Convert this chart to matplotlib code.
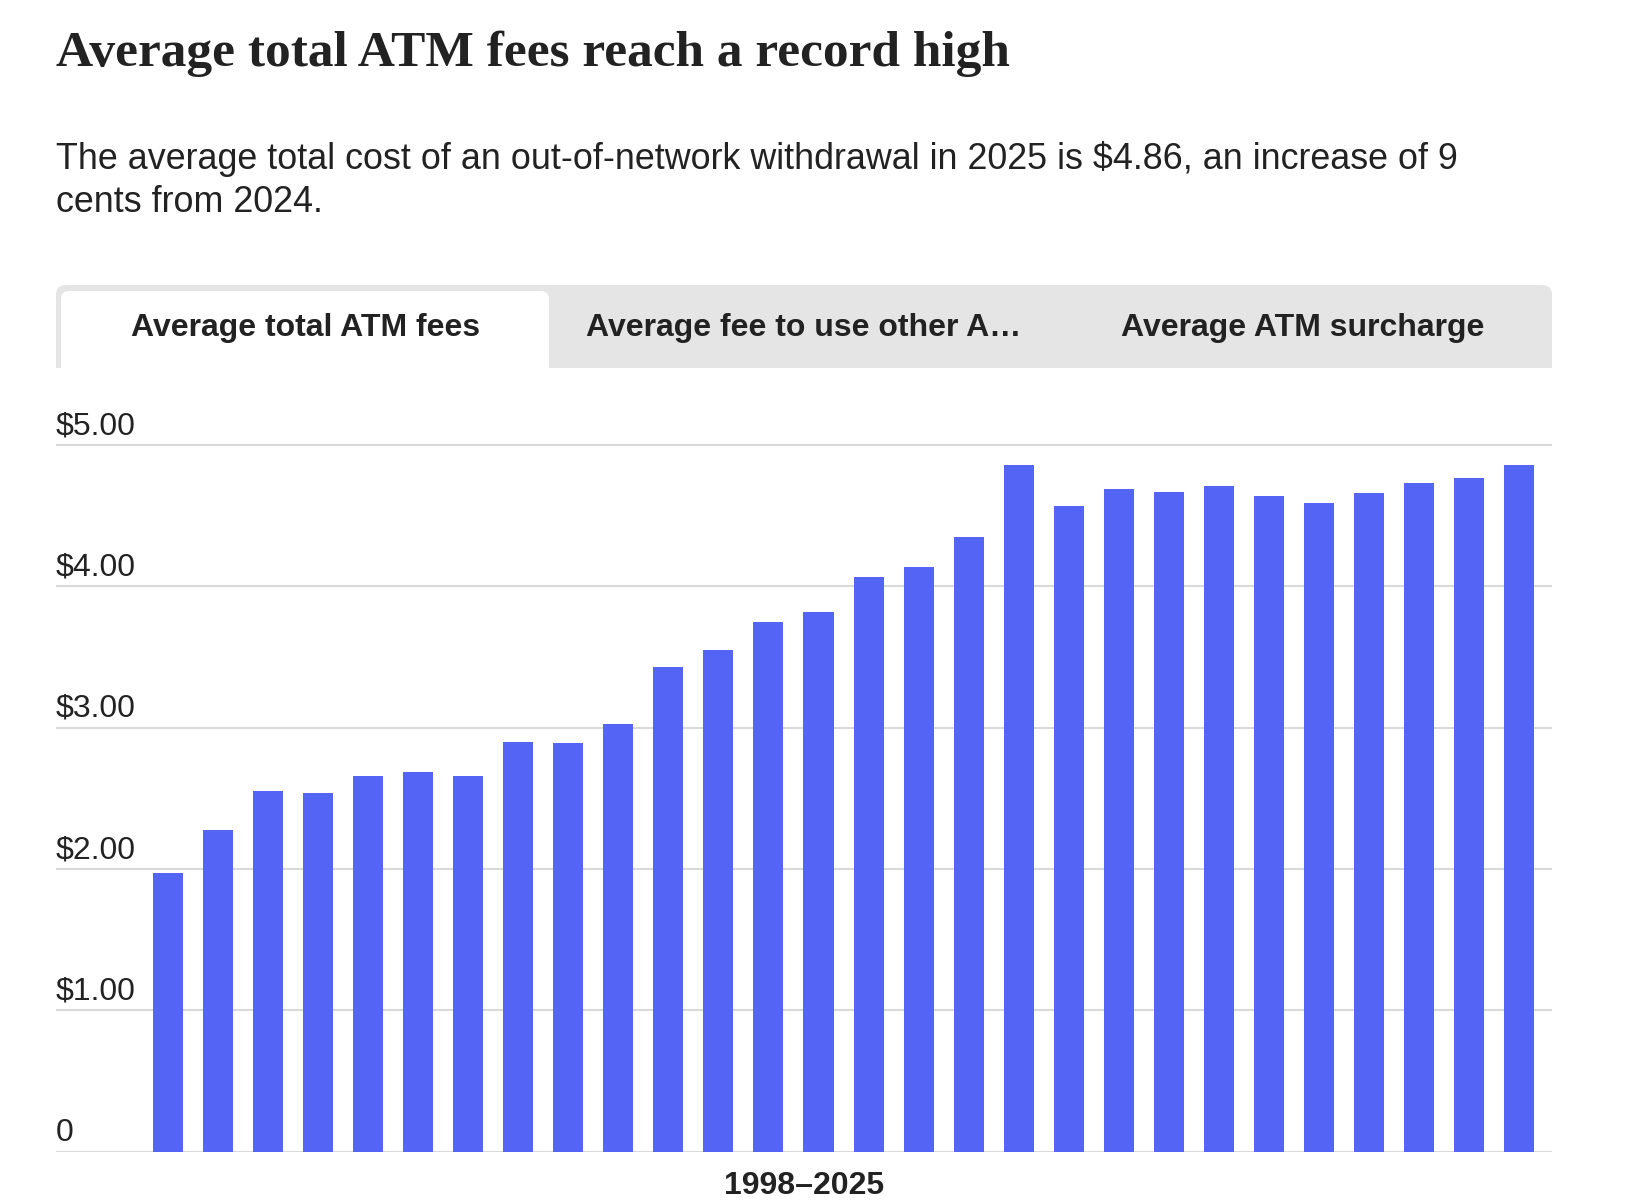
import matplotlib
matplotlib.use("Agg")
import matplotlib.pyplot as plt
import matplotlib.transforms as mtransforms
from matplotlib.patches import FancyBboxPatch, Rectangle

# data
years = list(range(1998, 2026))
total_fees = [1.97, 2.28, 2.55, 2.54, 2.66, 2.69, 2.66, 2.90, 2.89, 3.03,
              3.43, 3.55, 3.75, 3.82, 4.07, 4.14, 4.35, 4.86, 4.57, 4.69,
              4.67, 4.71, 4.64, 4.59, 4.66, 4.73, 4.77, 4.86]
y_ticks = [0, 1, 2, 3, 4, 5]
y_labels = ["0", "$1.00", "$2.00", "$3.00", "$4.00", "$5.00"]
tab_names = ["Average total ATM fees", "Average fee to use other A\u2026", "Average ATM surcharge"]

title = "Average total ATM fees reach a record high"
subtitle = ("The average total cost of an out-of-network withdrawal in 2025 is $4.86, an increase of 9\n"
            "cents from 2024.")
x_label = "1998\u20132025"

W, H = 1644, 1202
TXT = "#222222"
BAR = "#5465F6"
GRID = "#d9d9d9"
TABGRAY = "#e5e5e5"


def fx(x):
    return x / W


def fy(y):
    return 1 - y / H


fig = plt.figure(figsize=(W / 100, H / 100), dpi=100)
fig.patch.set_facecolor("white")

# title + subtitle
fig.text(fx(56), fy(66), title, family="Liberation Serif", weight="bold",
         fontsize=37, color=TXT, va="baseline", ha="left")
# baseline of a multi-line text is the last line
fig.text(fx(56), fy(212), subtitle, family="Liberation Sans", fontsize=25.8,
         color=TXT, va="baseline", ha="left", linespacing=1.28)

# tab bar
tab_left, tab_right, tab_top, tab_bot = 56, 1552, 285, 368
bar_patch = FancyBboxPatch((fx(tab_left), fy(tab_bot + 20)),
                           fx(tab_right - tab_left), (tab_bot + 20 - tab_top) / H,
                           boxstyle="round,pad=0,rounding_size=0.006",
                           transform=fig.transFigure, facecolor=TABGRAY,
                           edgecolor="none", mutation_aspect=W / H)
fig.patches.append(bar_patch)
active = FancyBboxPatch((fx(61), fy(tab_bot + 20)),
                        fx(549 - 61), (tab_bot + 20 - 291) / H,
                        boxstyle="round,pad=0,rounding_size=0.005",
                        transform=fig.transFigure, facecolor="white",
                        edgecolor="none", mutation_aspect=W / H)
fig.patches.append(active)
fig.patches.append(Rectangle((0, fy(tab_bot + 30)), 1, 30 / H,
                             transform=fig.transFigure, facecolor="white",
                             edgecolor="none"))
tab_w = (tab_right - tab_left) / len(tab_names)
for i, name in enumerate(tab_names):
    cx = tab_left + tab_w * (i + 0.5)
    fig.text(fx(cx), fy(336), name, family="Liberation Sans", weight="bold",
             fontsize=23, color=TXT, ha="center", va="baseline")

# chart
base_y = 1151.7
px_per_dollar = 141.3
ymax = 5.1
top_y = base_y - ymax * px_per_dollar
ax = fig.add_axes([fx(56), fy(base_y), fx(1552 - 56), (base_y - top_y) / H])
ax.set_facecolor("none")

xs = list(range(len(years)))
ax.bar(xs, total_fees, width=0.6, color=BAR, zorder=3)

ax.set_ylim(0, ymax)
ax.set_xlim(-2.24, 27.66)
ax.set_yticks(y_ticks)
ax.set_xticks([])
ax.yaxis.grid(True, color=GRID, linewidth=1.5, zorder=0)
ax.tick_params(axis="y", length=0, labelleft=False)
for s in ax.spines.values():
    s.set_visible(False)

trans = mtransforms.offset_copy(ax.get_yaxis_transform(), fig=fig, x=0,
                                y=11, units="dots")
for v, lab in zip(y_ticks, y_labels):
    ax.text(0, v, lab, transform=trans, family="Liberation Sans", fontsize=23,
            color=TXT, ha="left", va="baseline")

fig.text(fx(804), fy(1194), x_label, family="Liberation Sans", weight="bold",
         fontsize=23, color=TXT, ha="center", va="baseline")

fig.savefig("out.png", dpi=100)
